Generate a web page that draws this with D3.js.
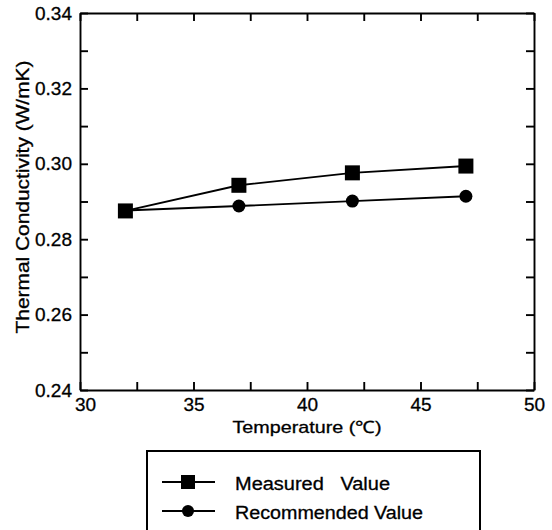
<!DOCTYPE html>
<html>
<head>
<meta charset="utf-8">
<script src="https://cdn.jsdelivr.net/npm/d3@7"></script>
<style>
  body { margin: 0; background: #fff; }
  text { font-family: "Liberation Sans", Arial, sans-serif; fill: #000; stroke: #000; stroke-width: 0.3px; }
</style>
</head>
<body>
<svg id="chart" width="552" height="530"></svg>
<script>
'use strict';

// data
var temperatures = [32, 37, 42, 47];
var measuredValues = [0.2875, 0.2943, 0.2976, 0.2994];
var recommendedValues = [0.2876, 0.2888, 0.2901, 0.2914];
var xTickValues = [30, 32.5, 35, 37.5, 40, 42.5, 45, 47.5, 50];
var yTickValues = [0.24, 0.25, 0.26, 0.27, 0.28, 0.29, 0.30, 0.31, 0.32, 0.33, 0.34];
var legendNames = ['Measured   Value', 'Recommended Value'];

var svg = d3.select('#chart');
var plotLeft = 80, plotRight = 534, plotTop = 13, plotBottom = 390;

var x = d3.scaleLinear().domain([30, 50]).range([plotLeft, plotRight]);
var y = d3.scaleLinear().domain([0.24, 0.34]).range([plotBottom, plotTop]);

function xLabel(d) { return d % 5 === 0 ? d : ''; }
function yLabel(d) { return Math.round(d * 100) % 2 === 0 ? d3.format('.2f')(d) : ''; }

// axes: ticks point into the plot
var gx = svg.append('g').attr('transform', 'translate(0,' + plotBottom + ')')
    .call(d3.axisBottom(x).tickValues(xTickValues).tickFormat(xLabel)
        .tickSizeInner(-8).tickSizeOuter(0).tickPadding(8));
var gxTop = svg.append('g').attr('transform', 'translate(0,' + plotTop + ')')
    .call(d3.axisTop(x).tickValues(xTickValues).tickFormat('')
        .tickSizeInner(-8).tickSizeOuter(0));
var gy = svg.append('g').attr('transform', 'translate(' + plotLeft + ',0)')
    .call(d3.axisLeft(y).tickValues(yTickValues).tickFormat(yLabel)
        .tickSizeInner(-8).tickSizeOuter(0).tickPadding(8));
var gyRight = svg.append('g').attr('transform', 'translate(' + plotRight + ',0)')
    .call(d3.axisRight(y).tickValues(yTickValues).tickFormat('')
        .tickSizeInner(-8).tickSizeOuter(0));

[gx, gxTop, gy, gyRight].forEach(function(g) {
    g.selectAll('path, line').attr('stroke', '#000').attr('stroke-width', 1.9);
    g.selectAll('text').style('font-size', '19px')
        .style('font-family', '"Liberation Sans", Arial, sans-serif').attr('fill', '#000');
});
// the "30" sits a little right of its tick in the scan
gx.selectAll('text').filter(function(d) { return d === 30; }).attr('dx', 5);

// axis titles
svg.append('text')
    .attr('x', 307).attr('y', 433)
    .attr('text-anchor', 'middle')
    .attr('textLength', 149).attr('lengthAdjust', 'spacingAndGlyphs')
    .style('font-size', '17px')
    .text('Temperature (\u2103)');

svg.append('text')
    .attr('transform', 'translate(29,197) rotate(-90)')
    .attr('text-anchor', 'middle')
    .attr('textLength', 273).attr('lengthAdjust', 'spacingAndGlyphs')
    .style('font-size', '18px')
    .text('Thermal Conductivity (W/mK)');

// series
var line = d3.line()
    .x(function(d) { return x(d[0]); })
    .y(function(d) { return y(d[1]); });

var recPts = temperatures.map(function(t, i) { return [t, recommendedValues[i]]; });
var measPts = temperatures.map(function(t, i) { return [t, measuredValues[i]]; });

svg.append('path').datum(recPts).attr('d', line)
    .attr('fill', 'none').attr('stroke', '#000').attr('stroke-width', 1.9);
svg.append('path').datum(measPts).attr('d', line)
    .attr('fill', 'none').attr('stroke', '#000').attr('stroke-width', 1.9);

svg.append('g').selectAll('circle').data(recPts).enter().append('circle')
    .attr('cx', function(d) { return x(d[0]); })
    .attr('cy', function(d) { return y(d[1]); })
    .attr('r', 6.5).attr('fill', '#000');

svg.append('g').selectAll('rect').data(measPts).enter().append('rect')
    .attr('x', function(d) { return x(d[0]) - 7.5; })
    .attr('y', function(d) { return y(d[1]) - 7.5; })
    .attr('width', 15).attr('height', 15).attr('fill', '#000');

// legend box, cut by the bottom edge like the scan
svg.append('rect')
    .attr('x', 147).attr('y', 451).attr('width', 333).attr('height', 100)
    .attr('fill', 'none').attr('stroke', '#000').attr('stroke-width', 2);

var legendWidths = [155, 188];
var legend = svg.append('g').selectAll('g').data(legendNames).enter().append('g')
    .attr('transform', function(d, i) { return 'translate(0,' + (482 + i * 29) + ')'; });

legend.append('line')
    .attr('x1', 162).attr('x2', 215)
    .attr('stroke', '#000').attr('stroke-width', 1.9);
legend.filter(function(d, i) { return i === 0; }).append('rect')
    .attr('x', 181).attr('y', -7).attr('width', 14).attr('height', 14).attr('fill', '#000');
legend.filter(function(d, i) { return i === 1; }).append('circle')
    .attr('cx', 188).attr('r', 6).attr('fill', '#000');
legend.append('text')
    .attr('x', 235).attr('y', 2)
    .attr('dy', '0.32em')
    .attr('textLength', function(d, i) { return legendWidths[i]; })
    .attr('lengthAdjust', 'spacingAndGlyphs')
    .style('font-size', '18px')
    .style('white-space', 'pre')
    .text(function(d) { return d; });
</script>
</body>
</html>
